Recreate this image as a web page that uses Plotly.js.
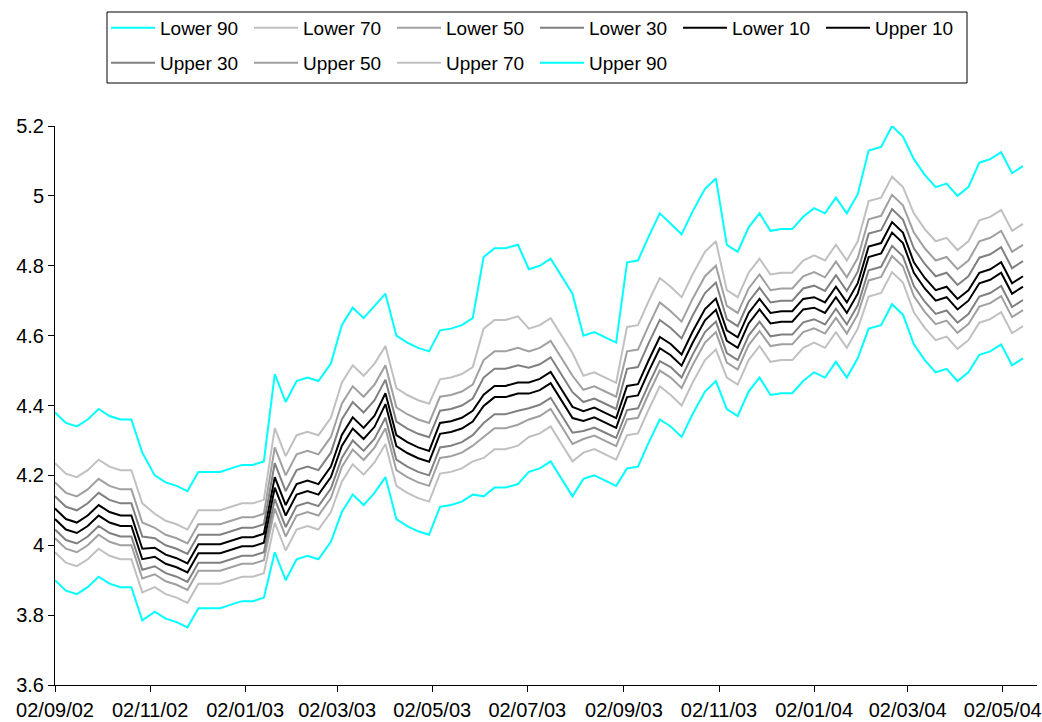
<!DOCTYPE html>
<html>
<head>
<meta charset="utf-8">
<script src="https://cdn.plot.ly/plotly-3.0.1.min.js"></script>
<style>html,body{margin:0;padding:0;background:#fff;}#chart{width:1042px;height:722px;}</style>
</head>
<body>
<div id="chart"></div>
<script>
// Roughly weekly central path (midpoint of the Lower 10 / Upper 10 pair), from 02/09/02
const startDate = '2002-09-02';
const sampleStepDays = 7.06;
const center = [
4.09,4.06,4.05,4.07,4.10,4.08,4.07,4.07,3.975,3.98,
3.96,3.95,3.935,3.99,3.99,3.99,4.00,4.01,4.01,4.02,
4.18,4.10,4.16,4.17,4.16,4.21,4.30,4.35,4.32,4.355,
4.42,4.30,4.28,4.265,4.255,4.335,4.34,4.35,4.37,4.415,
4.44,4.44,4.45,4.45,4.46,4.48,4.43,4.38,4.37,4.38,
4.365,4.35,4.44,4.445,4.515,4.58,4.56,4.53,4.595,4.66,
4.69,4.60,4.58,4.65,4.69,4.65,4.655,4.655,4.69,4.695,
4.68,4.725,4.68,4.735,4.84,4.85,4.91,4.88,4.795,4.75,
4.715,4.725,4.69,4.715,4.765,4.775,4.795,4.735,4.755
];

// Band regimes: start date of each regime and offset from the central path
const regimeStart = ['2002-09-02','2002-11-01','2003-01-20','2003-03-01','2003-04-01','2003-05-01',
  '2003-06-01','2003-07-01','2003-08-01','2003-09-01','2003-10-01','2003-11-01','2003-12-01',
  '2004-01-01','2004-02-01','2004-03-01','2004-04-15'];
const up90 = [0.29,0.22,0.31,0.33,0.30,0.28,0.41,0.34,0.23,0.37,0.36,0.26,0.25,0.27,0.29,0.31,0.33];
const up70 = [0.145,0.11,0.155,0.165,0.15,0.14,0.205,0.17,0.115,0.185,0.18,0.13,0.125,0.135,0.145,0.155,0.165];
const up50 = [0.09,0.07,0.10,0.105,0.095,0.09,0.115,0.105,0.075,0.115,0.11,0.085,0.08,0.087,0.093,0.10,0.105];
const up30 = [0.05,0.04,0.055,0.06,0.054,0.05,0.065,0.058,0.04,0.065,0.062,0.047,0.045,0.048,0.052,0.055,0.058];
const up10 = [0.015,0.013,0.015,0.016,0.015,0.015,0.016,0.016,0.014,0.016,0.016,0.015,0.015,0.015,0.015,0.015,0.015];
const lo10 = [0.015,0.013,0.015,0.016,0.016,0.016,0.016,0.016,0.014,0.016,0.016,0.015,0.015,0.015,0.015,0.015,0.015];
const lo30 = [0.045,0.04,0.048,0.05,0.055,0.055,0.065,0.058,0.043,0.053,0.05,0.05,0.052,0.048,0.053,0.053,0.053];
const lo50 = [0.07,0.063,0.075,0.076,0.085,0.085,0.105,0.09,0.066,0.08,0.08,0.077,0.08,0.074,0.082,0.082,0.082];
const lo70 = [0.11,0.10,0.115,0.118,0.13,0.13,0.165,0.14,0.105,0.125,0.13,0.12,0.125,0.115,0.128,0.128,0.128];
const lo90 = [0.19,0.17,0.20,0.205,0.225,0.225,0.275,0.24,0.18,0.22,0.22,0.21,0.22,0.20,0.22,0.22,0.22];

const seriesNames = ['Lower 90','Lower 70','Lower 50','Lower 30','Lower 10','Upper 10','Upper 30','Upper 50','Upper 70','Upper 90'];
const seriesOffsets = [lo90,lo70,lo50,lo30,lo10,up10,up30,up50,up70,up90];
const seriesSign = [-1,-1,-1,-1,-1,1,1,1,1,1];
const seriesColors = ['#00FFFF','#C0C0C0','#A0A0A0','#808080','#000000','#000000','#808080','#A0A0A0','#C0C0C0','#00FFFF'];

function addDays(iso, n){
  const d = new Date(iso + 'T00:00:00Z');
  d.setUTCDate(d.getUTCDate() + n);
  return d.toISOString().slice(0,10);
}
const dates = center.map((_, i) => addDays(startDate, Math.round(i * sampleStepDays)));
function regimeIndex(iso){
  let k = 0;
  for (let r = 0; r < regimeStart.length; r++) if (iso >= regimeStart[r]) k = r;
  return k;
}

const traces = seriesNames.map((name, s) => ({
  type: 'scatter', mode: 'lines', name: name,
  legend: s < 6 ? 'legend' : 'legend2',
  x: dates,
  y: center.map((c, i) => c + seriesSign[s] * seriesOffsets[s][regimeIndex(dates[i])]),
  line: {color: seriesColors[s], width: 2},
  hoverinfo: 'skip'
}));

const PL = 55, PT = 126, PW = 982, PH = 559;
const px2x = p => (p - PL) / PW;
const py2y = p => (PT + PH - p) / PH;

const font = {family: '"Liberation Sans", Arial, sans-serif', size: 19, color: '#000'};
const tickFont = {family: '"Liberation Sans", Arial, sans-serif', size: 20, color: '#000'};
const legendBase = {
  orientation: 'h', xanchor: 'left', yanchor: 'top',
  borderwidth: 0, bgcolor: 'rgba(0,0,0,0)',
  entrywidth: 84, entrywidthmode: 'pixels', itemwidth: 44,
  font: font, traceorder: 'normal'
};
const layout = {
  width: 1042, height: 722,
  margin: {l: PL, r: 1042 - PL - PW, t: PT, b: 722 - PT - PH},
  paper_bgcolor: '#fff', plot_bgcolor: '#fff',
  font: font,
  showlegend: true,
  legend: Object.assign({}, legendBase, {x: px2x(106), y: py2y(9)}),
  legend2: Object.assign({}, legendBase, {x: px2x(106), y: py2y(44)}),
  shapes: [{
    type: 'rect', xref: 'paper', yref: 'paper', layer: 'below',
    x0: px2x(107), x1: px2x(967), y0: py2y(83), y1: py2y(12),
    line: {color: '#000', width: 1}, fillcolor: '#fff'
  }],
  xaxis: {
    type: 'date', range: ['2002-09-02', '2004-05-24'],
    tick0: '2002-09-02', dtick: 'M2', tickformat: '%d/%m/%y',
    ticks: 'outside', ticklen: 6, tickcolor: '#000', tickfont: tickFont,
    showline: true, linecolor: '#000', linewidth: 1,
    showgrid: false, zeroline: false, ticklabelstandoff: 1
  },
  yaxis: {
    range: [3.6, 5.2], dtick: 0.2, tick0: 3.6,
    ticks: 'outside', ticklen: 6, tickcolor: '#000', tickfont: tickFont,
    showline: true, linecolor: '#000', linewidth: 1,
    showgrid: false, zeroline: false
  }
};
Plotly.newPlot('chart', traces, layout, {displayModeBar: false, staticPlot: true});
</script>
</body>
</html>
